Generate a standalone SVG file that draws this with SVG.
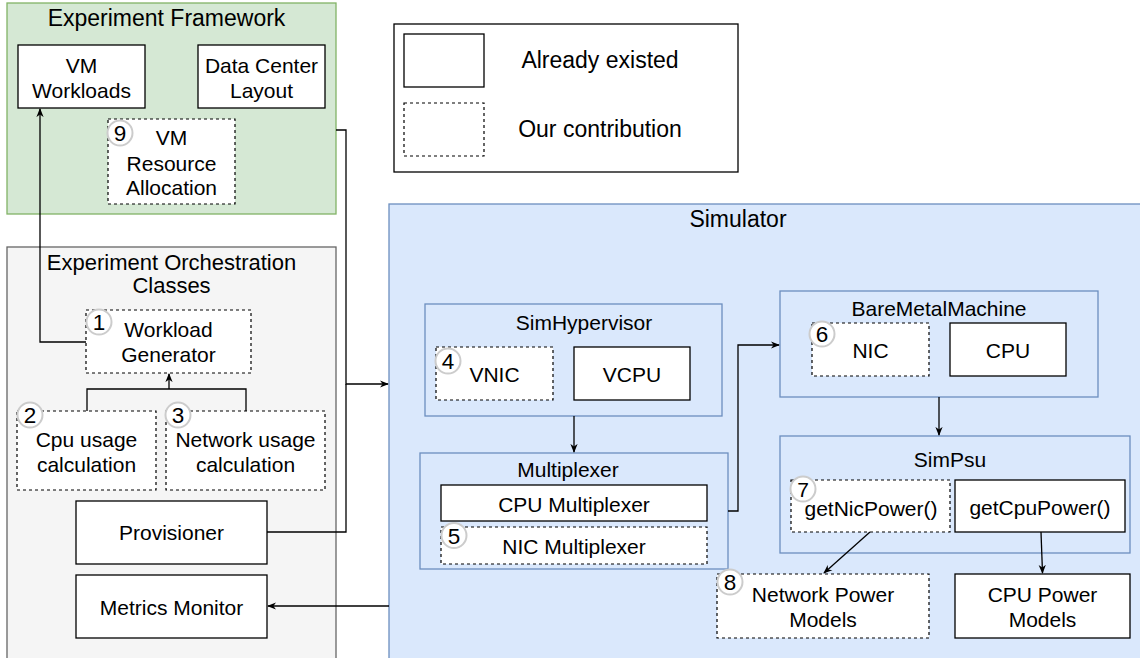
<svg xmlns="http://www.w3.org/2000/svg" width="1140" height="658" viewBox="0 0 1140 658">
<defs>
<marker id="arr" viewBox="0 0 10 10" refX="9" refY="5" markerWidth="9" markerHeight="9" markerUnits="userSpaceOnUse" orient="auto">
<path d="M0,1 L10,5 L0,9 L3,5 Z" fill="#000"/>
</marker>
<style>
text{font-family:"Liberation Sans",Arial,Helvetica,sans-serif;fill:#000;text-anchor:middle;font-size:21px}
.big{font-size:23px}
.box{fill:#fff;stroke:#000;stroke-width:1.3}
.dash{fill:#fff;stroke:#000;stroke-width:1.2;stroke-dasharray:3 3}
.grp{fill:#dae8fc;stroke:#6c8ebf;stroke-width:1.3}
.badge circle{fill:#fff;stroke:#cccccc;stroke-width:2}
.badge text{font-size:22.5px}
.edge{fill:none;stroke:#000;stroke-width:1.3}
</style>
</defs>
<rect width="1140" height="658" fill="#fff"/>

<g id="experiment-framework">
<rect x="7" y="3" width="329" height="211" fill="#d5e8d4" stroke="#82b366" stroke-width="1.3"/>
<text class="big" x="166.5" y="26">Experiment Framework</text>
</g>
<g id="vm-workloads">
<rect class="box" x="18" y="45" width="127" height="63"/>
<text x="81.5" y="73">VM</text><text x="81.5" y="98">Workloads</text>
</g>
<g id="data-center-layout">
<rect class="box" x="198" y="45" width="127" height="63"/>
<text x="261.5" y="73">Data Center</text><text x="261.5" y="98">Layout</text>
</g>
<g id="vm-resource-allocation">
<rect class="dash" x="108" y="119" width="127" height="85"/>
<text x="171.5" y="145">VM</text><text x="171.5" y="171">Resource</text><text x="171.5" y="195">Allocation</text>
<g class="badge"><circle cx="120" cy="133" r="12.5"/><text x="120" y="141">9</text></g>
</g>

<g id="legend">
<rect x="394" y="24" width="344" height="148" fill="#fff" stroke="#000" stroke-width="1.3"/>
<rect class="box" x="404" y="34" width="80" height="53"/>
<rect class="dash" x="404" y="103" width="80" height="53"/>
<text class="big" x="600" y="68">Already existed</text>
<text class="big" x="600" y="137">Our contribution</text>
</g>

<g id="experiment-orchestration">
<rect x="7" y="247" width="329" height="420" fill="#f5f5f5" stroke="#666" stroke-width="1.3"/>
<text x="171.5" y="270" style="font-size:22px">Experiment Orchestration</text>
<text x="171.5" y="293" style="font-size:22px">Classes</text>
</g>
<g id="workload-generator">
<rect class="dash" x="86" y="310" width="165" height="63"/>
<text x="168.5" y="337">Workload</text><text x="168.5" y="362">Generator</text>
<g class="badge"><circle cx="99" cy="322" r="12.5"/><text x="99" y="330">1</text></g>
</g>
<g id="cpu-usage">
<rect class="dash" x="17" y="411" width="139" height="79"/>
<text x="86.5" y="447">Cpu usage</text><text x="86.5" y="472">calculation</text>
<g class="badge"><circle cx="30" cy="415" r="12.5"/><text x="30" y="423">2</text></g>
</g>
<g id="network-usage">
<rect class="dash" x="166" y="411" width="159" height="79"/>
<text x="245.5" y="447">Network usage</text><text x="245.5" y="472">calculation</text>
<g class="badge"><circle cx="178" cy="415" r="12.5"/><text x="178" y="423">3</text></g>
</g>
<g id="provisioner">
<rect class="box" x="76" y="501" width="191" height="63"/>
<text x="171.5" y="540">Provisioner</text>
</g>
<g id="metrics-monitor">
<rect class="box" x="76" y="575" width="191" height="63"/>
<text x="171.5" y="615">Metrics Monitor</text>
</g>

<g id="simulator">
<rect x="389" y="204" width="770" height="470" fill="#dae8fc" stroke="#6c8ebf" stroke-width="1.3"/>
<text class="big" x="738" y="227">Simulator</text>
</g>
<g id="simhypervisor">
<rect class="grp" x="425" y="304" width="297" height="112"/>
<text x="584" y="330">SimHypervisor</text>
</g>
<g id="vnic">
<rect class="dash" x="436" y="347" width="117" height="53"/>
<text x="494.5" y="382">VNIC</text>
<g class="badge"><circle cx="448" cy="361" r="12.5"/><text x="448" y="369">4</text></g>
</g>
<g id="vcpu">
<rect class="box" x="574" y="347" width="116" height="53"/>
<text x="632" y="382">VCPU</text>
</g>
<g id="multiplexer">
<rect class="grp" x="420" y="453" width="308" height="116"/>
<text x="568" y="477">Multiplexer</text>
</g>
<g id="cpu-multiplexer">
<rect class="box" x="441" y="485" width="266" height="36"/>
<text x="574" y="512">CPU Multiplexer</text>
</g>
<g id="nic-multiplexer">
<rect class="dash" x="441" y="527" width="266" height="37"/>
<text x="574" y="554">NIC Multiplexer</text>
<g class="badge"><circle cx="454" cy="535.5" r="12.5"/><text x="454" y="543.5">5</text></g>
</g>
<g id="baremetalmachine">
<rect class="grp" x="780" y="291" width="318" height="106"/>
<text x="939" y="316">BareMetalMachine</text>
</g>
<g id="nic">
<rect class="dash" x="812" y="323" width="117" height="53"/>
<text x="870.5" y="358">NIC</text>
<g class="badge"><circle cx="822" cy="334" r="12.5"/><text x="822" y="342">6</text></g>
</g>
<g id="cpu">
<rect class="box" x="950" y="323" width="116" height="53"/>
<text x="1008" y="358">CPU</text>
</g>
<g id="simpsu">
<rect class="grp" x="780" y="436" width="350" height="117"/>
<text x="950" y="467">SimPsu</text>
</g>
<g id="getnicpower">
<rect class="dash" x="791" y="480" width="159" height="52"/>
<text x="871" y="516">getNicPower()</text>
<g class="badge"><circle cx="803" cy="489" r="12.5"/><text x="803" y="497" style="font-size:21px">7</text></g>
</g>
<g id="getcpupower">
<rect class="box" x="955" y="480" width="170" height="52"/>
<text x="1040" y="515">getCpuPower()</text>
</g>
<g id="network-power-models">
<rect class="dash" x="717" y="574" width="212" height="64"/>
<text x="823" y="602">Network Power</text><text x="823" y="627">Models</text>
<g class="badge"><circle cx="730" cy="582" r="12.5"/><text x="730" y="590">8</text></g>
</g>
<g id="cpu-power-models">
<rect class="box" x="955" y="574" width="175" height="64"/>
<text x="1042.5" y="602">CPU Power</text><text x="1042.5" y="627">Models</text>
</g>

<g id="connectors">
<path class="edge" d="M86,342 H40 V109" marker-end="url(#arr)"/>
<path class="edge" d="M87,411 V389 H246 V411"/>
<path class="edge" d="M169,389 V374" marker-end="url(#arr)"/>
<path class="edge" d="M336,130 H346 V384 H388" marker-end="url(#arr)"/>
<path class="edge" d="M267,532 H346 V384"/>
<path class="edge" d="M389,606 H268" marker-end="url(#arr)"/>
<path class="edge" d="M574,416 V452" marker-end="url(#arr)"/>
<path class="edge" d="M728,511 H738 V345 H779" marker-end="url(#arr)"/>
<path class="edge" d="M939,397 V435" marker-end="url(#arr)"/>
<path class="edge" d="M870,532 L824,573" marker-end="url(#arr)"/>
<path class="edge" d="M1041,532 L1042.5,573" marker-end="url(#arr)"/>
</g>
</svg>
